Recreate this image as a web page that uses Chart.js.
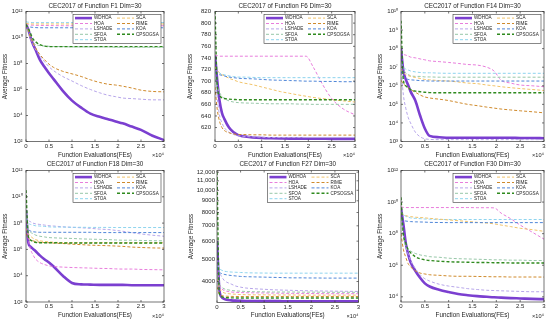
<!DOCTYPE html>
<html>
<head>
<meta charset="utf-8">
<script src="https://cdn.jsdelivr.net/npm/chart.js@4.4.1/dist/chart.umd.min.js"></script>
<style>
  body { margin: 0; background: #fff; width: 550px; height: 324px; position: relative; overflow: hidden; }
  canvas { position: absolute; }
</style>
</head>
<body>
<canvas id="f1"></canvas>
<canvas id="f6"></canvas>
<canvas id="f14"></canvas>
<canvas id="f18"></canvas>
<canvas id="f27"></canvas>
<canvas id="f30"></canvas>
<script>
// sample positions (function evaluations) shared by every curve
const FES = [0, 500, 1000, 1500, 2000, 3000, 4000, 5000, 6000, 8000, 10000, 12000, 14000, 16000, 18000, 19500, 21000, 23000, 25000, 27500, 30000];
const ALGOS = ['WDHOA', 'HOA', 'LSHADE', 'SFOA', 'STOA', 'SCA', 'RIME', 'KOA', 'CPSOGSA'];
const X_TICKS = [0, 5000, 10000, 15000, 20000, 25000, 30000];
const X_LABELS = ['0', '0.5', '1', '1.5', '2', '2.5', '3'];

// F1
const F1_WDHOA = [1e11, 4e10, 1e10, 3.2e9, 1.3e9, 2e8, 5.6e7, 1.8e7, 6.3e6, 7.9e5, 1.4e5, 4e4, 1.4e4, 7.9e3, 5e3, 3.5e3, 2.5e3, 1.4e3, 7.9e2, 2.8e2, 1.3e2];
const F1_HOA = [1.1e11, 9.5e10, 9e10, 8.8e10, 8.6e10, 8.5e10, 8.4e10, 8.3e10, 8.2e10, 8.1e10, 8e10, 8e10, 8e10, 8e10, 8e10, 8e10, 8e10, 8e10, 8e10, 8e10, 8e10];
const F1_LSHADE = [1e11, 2.5e10, 7.9e9, 3.2e9, 1.4e9, 4e8, 1.4e8, 5.6e7, 2.8e7, 1e7, 4.5e6, 2e6, 1e6, 5.6e5, 3.5e5, 2.8e5, 2.2e5, 2e5, 1.8e5, 1.6e5, 1.6e5];
const F1_SFOA = [1.1e11, 4e10, 1e10, 4.5e9, 3e9, 2.4e9, 2.2e9, 2.1e9, 2e9, 2e9, 1.9e9, 1.9e9, 1.9e9, 1.9e9, 1.9e9, 1.8e9, 1.8e9, 1.8e9, 1.8e9, 1.8e9, 1.8e9];
const F1_STOA = [1.6e11, 1.5e11, 1.45e11, 1.4e11, 1.4e11, 1.4e11, 1.4e11, 1.4e11, 1.4e11, 1.4e11, 1.4e11, 1.4e11, 1.4e11, 1.4e11, 1.4e11, 1.4e11, 1.4e11, 1.4e11, 1.4e11, 1.4e11, 1.4e11];
const F1_SCA = [1.2e11, 1.15e11, 1.1e11, 1.1e11, 1.1e11, 1.1e11, 1.1e11, 1.1e11, 1.1e11, 1.1e11, 1.1e11, 1.1e11, 1.1e11, 1.1e11, 1.1e11, 1.1e11, 1.1e11, 1.1e11, 1.1e11, 1.1e11, 1.1e11];
const F1_RIME = [1e11, 3.2e10, 1e10, 4e9, 1.8e9, 5e8, 2e8, 8.9e7, 5e7, 2.5e7, 1.6e7, 1e7, 5.6e6, 3.5e6, 2.5e6, 2.2e6, 1.8e6, 1.3e6, 8.9e5, 7.1e5, 6.6e5];
const F1_KOA = [1e11, 7e10, 6.3e10, 6e10, 5.8e10, 5.6e10, 5.6e10, 5.6e10, 5.6e10, 5.6e10, 5.6e10, 5.6e10, 5.6e10, 5.6e10, 5.6e10, 5.6e10, 5.6e10, 5.6e10, 5.6e10, 5.6e10, 5.6e10];
const F1_CPSOGSA = [1e11, 5e10, 2e10, 8e9, 5e9, 2.8e9, 2.2e9, 2e9, 2e9, 2e9, 2e9, 2e9, 2e9, 2e9, 2e9, 2e9, 2e9, 2e9, 2e9, 2e9, 2e9];
const F1_YTICKS = [1e2, 1e4, 1e6, 1e8, 1e10, 1e12];
const F1_YLABELS = ['10²', '10⁴', '10⁶', '10⁸', '10¹⁰', '10¹²'];

// F6
const F6_WDHOA = [745, 700, 665, 645, 635, 620, 612, 607, 605, 603, 602, 601.5, 601.2, 601, 601, 600.8, 600.8, 600.7, 600.6, 600.5, 600.5];
const F6_HOA = [745, 744, 743, 743, 743, 743, 743, 743, 743, 743, 743, 743, 743, 743, 743, 743, 725, 695, 670, 652, 642];
const F6_LSHADE = [720, 670, 640, 628, 620, 612, 608, 606, 605, 604, 603.5, 603, 603, 603, 603, 603, 603, 603, 603, 603, 603];
const F6_SFOA = [705, 690, 680, 674, 670, 666, 664, 663, 662.5, 662, 661.5, 661, 661, 661, 660.5, 660.5, 660, 660, 660, 660, 660];
const F6_STOA = [722, 718, 714, 712, 711, 709, 708, 707, 707, 706.5, 706, 706, 706, 706, 706, 706, 706, 706, 706, 706, 706];
const F6_SCA = [725, 718, 714, 711, 709, 705, 702, 699, 697, 694, 690, 686, 682, 679, 676, 674, 672, 670, 668, 666, 664];
const F6_RIME = [690, 650, 630, 620, 615, 611, 609, 608, 608, 607.5, 607.5, 607, 607, 607, 607, 607, 607, 607, 607, 607, 607];
const F6_KOA = [716, 713, 711, 710, 709, 707, 706, 705, 704.5, 704, 703, 702, 701.5, 701, 700.5, 700, 700, 699.5, 699.5, 699, 699];
const F6_CPSOGSA = [820, 690, 675, 671, 670, 669, 668.5, 668, 668, 668, 668, 668, 668, 668, 668, 668, 668, 668, 668, 668, 668];
const F6_YTICKS = [620, 640, 660, 680, 700, 720, 740, 760, 780, 800, 820];
const F6_YLABELS = ['620', '640', '660', '680', '700', '720', '740', '760', '780', '800', '820'];

// F14
const F14_WDHOA = [1e8, 6.3e6, 2.2e6, 1.1e6, 5e5, 1.6e5, 2.5e4, 5e3, 2e3, 1.7e3, 1.6e3, 1.6e3, 1.6e3, 1.6e3, 1.6e3, 1.6e3, 1.6e3, 1.6e3, 1.55e3, 1.55e3, 1.5e3];
const F14_HOA = [7.9e7, 5e7, 4.5e7, 4e7, 3.5e7, 3.2e7, 2.8e7, 2.5e7, 2.2e7, 2e7, 1.8e7, 1.6e7, 1.4e7, 1.3e7, 1e7, 6.3e6, 2e6, 1.4e6, 1.1e6, 1e6, 8.9e5];
const F14_LSHADE = [1e7, 3.2e5, 6.3e4, 2e4, 1e4, 3.2e3, 1.8e3, 1.4e3, 1.3e3, 1.26e3, 1.26e3, 1.26e3, 1.26e3, 1.26e3, 1.26e3, 1.26e3, 1.26e3, 1.26e3, 1.26e3, 1.26e3, 1.26e3];
const F14_SFOA = [2e7, 7.9e6, 5e6, 4e6, 3.5e6, 3.2e6, 3.2e6, 3e6, 3e6, 2.9e6, 2.9e6, 2.9e6, 2.9e6, 2.9e6, 2.9e6, 2.9e6, 2.9e6, 2.9e6, 2.9e6, 2.9e6, 2.9e6];
const F14_STOA = [1.6e7, 1e7, 7.9e6, 7.1e6, 6.3e6, 5.6e6, 5.2e6, 5e6, 5e6, 4.8e6, 4.7e6, 4.7e6, 4.7e6, 4.7e6, 4.7e6, 4.7e6, 4.7e6, 4.7e6, 4.7e6, 4.7e6, 4.7e6];
const F14_SCA = [7.9e6, 5e6, 4e6, 3.5e6, 3.2e6, 2.8e6, 2.5e6, 2.2e6, 2.1e6, 1.9e6, 1.8e6, 1.6e6, 1.4e6, 1.3e6, 1.1e6, 1e6, 8.9e5, 7.9e5, 7.1e5, 6.3e5, 5.6e5];
const F14_RIME = [2e6, 1.26e6, 1e6, 7.9e5, 6.3e5, 4.5e5, 3.2e5, 2.5e5, 2.2e5, 1.9e5, 1.6e5, 1.26e5, 1e5, 8.5e4, 7.1e4, 6.3e4, 5.6e4, 5e4, 4.5e4, 4e4, 3.5e4];
const F14_KOA = [6.3e6, 3.2e6, 2.5e6, 2.2e6, 2.1e6, 2e6, 1.9e6, 1.85e6, 1.8e6, 1.8e6, 1.8e6, 1.8e6, 1.8e6, 1.8e6, 1.8e6, 1.8e6, 1.8e6, 1.8e6, 1.8e6, 1.8e6, 1.8e6];
const F14_CPSOGSA = [3.2e9, 2e6, 1e6, 7.9e5, 6.3e5, 5.2e5, 4.8e5, 4.5e5, 4.3e5, 4.2e5, 4.2e5, 4.2e5, 4.2e5, 4.2e5, 4.2e5, 4.2e5, 4.2e5, 4.2e5, 4.2e5, 4.2e5, 4.2e5];
const F14_YTICKS = [1e3, 1e4, 1e5, 1e6, 1e7, 1e8, 1e9, 1e10];
const F14_YLABELS = ['10³', '10⁴', '10⁵', '10⁶', '10⁷', '10⁸', '10⁹', '10¹⁰'];

// F18
const F18_WDHOA = [1e9, 3.2e6, 1.6e6, 1.1e6, 7.9e5, 3.5e5, 1.8e5, 1e5, 5e4, 1e4, 2.8e3, 2.2e3, 2.1e3, 2e3, 2e3, 2e3, 2e3, 1.9e3, 1.9e3, 1.9e3, 1.9e3];
const F18_HOA = [3.2e8, 6.3e6, 1e6, 4e5, 2e5, 1e5, 7.1e4, 5.6e4, 5e4, 4.5e4, 4.2e4, 4e4, 3.8e4, 3.6e4, 3.5e4, 3.3e4, 3.2e4, 3.2e4, 3e4, 2.9e4, 2.8e4];
const F18_LSHADE = [3.2e8, 1.6e8, 1.26e8, 1e8, 8.9e7, 7.9e7, 7.1e7, 6.3e7, 6e7, 5.2e7, 4.8e7, 4.4e7, 4e7, 3.5e7, 3.2e7, 2.8e7, 2.4e7, 1.9e7, 1.5e7, 1.2e7, 1e7];
const F18_SFOA = [6.3e8, 4e7, 2e7, 1.6e7, 1.26e7, 1e7, 8.9e6, 7.9e6, 7.6e6, 7.1e6, 6.8e6, 6.3e6, 6e6, 5.8e6, 5.5e6, 5.2e6, 5e6, 5e6, 4.8e6, 4.6e6, 4.5e6];
const F18_STOA = [2e8, 1e8, 7.9e7, 7.1e7, 6.3e7, 6e7, 5.6e7, 5.2e7, 5e7, 5e7, 4.8e7, 4.8e7, 4.7e7, 4.7e7, 4.7e7, 4.6e7, 4.6e7, 4.6e7, 4.6e7, 4.6e7, 4.6e7];
const F18_SCA = [4e7, 1.6e7, 1e7, 7.1e6, 5.6e6, 4.5e6, 4e6, 3.7e6, 3.5e6, 3.3e6, 3.2e6, 3.2e6, 3.2e6, 3.2e6, 3.2e6, 3.2e6, 3.2e6, 3.2e6, 3.2e6, 3.2e6, 3.2e6];
const F18_RIME = [1.6e7, 7.9e6, 5.6e6, 4.5e6, 4e6, 3.5e6, 3.3e6, 3.2e6, 3e6, 2.8e6, 2.5e6, 2.3e6, 2.1e6, 2e6, 1.9e6, 1.8e6, 1.7e6, 1.5e6, 1.4e6, 1.3e6, 1.26e6];
const F18_KOA = [6.3e7, 3.2e7, 2.5e7, 2.2e7, 2.1e7, 2e7, 2e7, 2e7, 2e7, 2e7, 2e7, 2e7, 2e7, 1.9e7, 1.9e7, 1.9e7, 1.9e7, 1.9e7, 1.9e7, 1.9e7, 1.9e7];
const F18_CPSOGSA = [3.2e10, 1e7, 5e6, 4e6, 3.5e6, 3.2e6, 3.2e6, 3.2e6, 3.2e6, 3.1e6, 3.1e6, 3.1e6, 3.1e6, 3.1e6, 3.1e6, 3.1e6, 3.1e6, 3.1e6, 3.1e6, 3.1e6, 3.1e6];
const F18_YTICKS = [1e2, 1e4, 1e6, 1e8, 1e10, 1e12];
const F18_YLABELS = ['10²', '10⁴', '10⁶', '10⁸', '10¹⁰', '10¹²'];

// F27
const F27_WDHOA = [6000, 3700, 3420, 3360, 3330, 3310, 3300, 3295, 3290, 3288, 3285, 3284, 3283, 3282, 3281, 3280, 3280, 3280, 3279, 3278, 3278];
const F27_HOA = [4500, 3900, 3720, 3660, 3630, 3600, 3590, 3580, 3575, 3570, 3565, 3560, 3555, 3550, 3550, 3545, 3545, 3540, 3540, 3540, 3540];
const F27_LSHADE = [5000, 4400, 4200, 4050, 3980, 3900, 3820, 3780, 3750, 3720, 3700, 3680, 3670, 3660, 3650, 3645, 3640, 3635, 3630, 3625, 3620];
const F27_SFOA = [4300, 3900, 3780, 3720, 3690, 3660, 3640, 3630, 3620, 3610, 3605, 3600, 3600, 3600, 3595, 3595, 3595, 3590, 3590, 3590, 3590];
const F27_STOA = [4700, 4550, 4480, 4440, 4420, 4400, 4390, 4380, 4370, 4360, 4355, 4350, 4350, 4350, 4350, 4350, 4350, 4350, 4350, 4350, 4350];
const F27_SCA = [4100, 3750, 3620, 3570, 3550, 3530, 3520, 3510, 3505, 3500, 3500, 3495, 3495, 3495, 3490, 3490, 3490, 3490, 3490, 3490, 3490];
const F27_RIME = [3800, 3520, 3470, 3455, 3450, 3445, 3442, 3440, 3440, 3440, 3440, 3440, 3440, 3440, 3440, 3440, 3440, 3440, 3440, 3440, 3440];
const F27_KOA = [4600, 4400, 4330, 4300, 4280, 4250, 4230, 4210, 4200, 4190, 4180, 4170, 4160, 4150, 4150, 4145, 4145, 4140, 4140, 4140, 4140];
const F27_CPSOGSA = [12000, 3550, 3430, 3410, 3400, 3395, 3392, 3390, 3390, 3390, 3390, 3390, 3390, 3390, 3390, 3390, 3390, 3390, 3390, 3390, 3390];
const F27_YTICKS = [4000, 5000, 6000, 7000, 8000, 9000, 10000, 11000, 12000];
const F27_YLABELS = ['4000', '5000', '6000', '7000', '8000', '9000', '10,000', '11,000', '12,000'];

// F30
const F30_WDHOA = [4e9, 4e8, 2.5e7, 5e6, 1.6e6, 4.5e5, 1.6e5, 7.1e4, 4.5e4, 2.8e4, 2e4, 1.5e4, 1.26e4, 1.1e4, 1e4, 9.3e3, 8.9e3, 8.3e3, 7.9e3, 7.4e3, 7.1e3];
const F30_HOA = [5e9, 4.6e9, 4.5e9, 4.5e9, 4.5e9, 4.5e9, 4.5e9, 4.5e9, 4.5e9, 4.5e9, 4.5e9, 4.5e9, 4.5e9, 4.4e9, 4.4e9, 4.3e9, 2e9, 8.9e8, 3.5e8, 1.26e8, 4.5e7];
const F30_LSHADE = [1e9, 1e8, 1.6e7, 5e6, 2e6, 6.3e5, 2.5e5, 1.4e5, 1e5, 6.3e4, 4.8e4, 4e4, 3.3e4, 2.9e4, 2.6e4, 2.5e4, 2.4e4, 2.3e4, 2.2e4, 2.1e4, 2.1e4];
const F30_SFOA = [1e9, 6.3e7, 1.6e7, 1e7, 7.9e6, 5.6e6, 4.5e6, 4e6, 3.5e6, 3.2e6, 2.8e6, 2.6e6, 2.5e6, 2.4e6, 2.3e6, 2.2e6, 2.2e6, 2.1e6, 2.1e6, 2e6, 2e6];
const F30_STOA = [2.5e9, 1.6e9, 1.26e9, 1.1e9, 1e9, 9.3e8, 8.9e8, 8.5e8, 8.3e8, 7.9e8, 7.9e8, 7.9e8, 7.9e8, 7.9e8, 7.9e8, 7.9e8, 7.9e8, 7.9e8, 7.9e8, 7.9e8, 7.9e8];
const F30_SCA = [2e9, 1.6e9, 1.4e9, 1.26e9, 1.2e9, 1.1e9, 1.05e9, 1e9, 9.3e8, 8.3e8, 7.4e8, 6.6e8, 5.9e8, 5.2e8, 4.7e8, 4.2e8, 3.5e8, 2.8e8, 2.2e8, 1.8e8, 1.4e8];
const F30_RIME = [1e8, 1e7, 3.2e6, 1.26e6, 7.9e5, 4.5e5, 3.2e5, 2.8e5, 2.5e5, 2.3e5, 2.1e5, 2e5, 2e5, 1.95e5, 1.9e5, 1.86e5, 1.86e5, 1.8e5, 1.8e5, 1.8e5, 1.78e5];
const F30_KOA = [1e9, 7.1e8, 6.3e8, 6e8, 5.8e8, 5.6e8, 5.5e8, 5.4e8, 5.2e8, 5.1e8, 5e8, 5e8, 5e8, 5e8, 5e8, 5e8, 5e8, 5e8, 5e8, 5e8, 5e8];
const F30_CPSOGSA = [2e10, 1e8, 2.5e7, 1e7, 6.3e6, 3.5e6, 2.6e6, 2.2e6, 2e6, 1.8e6, 1.66e6, 1.6e6, 1.55e6, 1.5e6, 1.48e6, 1.45e6, 1.45e6, 1.4e6, 1.4e6, 1.38e6, 1.38e6];
const F30_YTICKS = [1e4, 1e6, 1e8, 1e10, 1e12];
const F30_YLABELS = ['10⁴', '10⁶', '10⁸', '10¹⁰', '10¹²'];

// line styles per algorithm
const COLORS = ['#7b3fd0', '#e87ddc', '#b7a6ea', '#97c7a8', '#8ed4ee', '#f1c36a', '#cf8a2c', '#4f86d8', '#2f8a1e'];
const WIDTHS = [2.6, 1, 1, 1, 1, 1, 1, 1, 1.4];
const DASH = [3, 2];

Chart.defaults.font.family = '"Liberation Sans", Arial, sans-serif';
Chart.defaults.color = '#262626';

// MATLAB-like box with inward ticks
const framePlugin = {
  id: 'frame',
  afterDatasetsDraw(chart) {
    const { ctx, chartArea: a, scales } = chart;
    ctx.save();
    ctx.strokeStyle = '#3a3a3a';
    ctx.lineWidth = 0.7;
    ctx.beginPath();
    scales.x.ticks.forEach(t => {
      const px = scales.x.getPixelForValue(t.value);
      ctx.moveTo(px, a.bottom); ctx.lineTo(px, a.bottom - 2);
      ctx.moveTo(px, a.top); ctx.lineTo(px, a.top + 2);
    });
    scales.y.ticks.forEach(t => {
      const py = scales.y.getPixelForValue(t.value);
      ctx.moveTo(a.left, py); ctx.lineTo(a.left + 2, py);
      ctx.moveTo(a.right, py); ctx.lineTo(a.right - 2, py);
    });
    ctx.stroke();
    ctx.strokeRect(a.left, a.top, a.right - a.left, a.bottom - a.top);
    ctx.restore();
  }
};

// two column legend box inside the axes, plus the x10^4 exponent label
const legendPlugin = {
  id: 'boxLegend',
  afterDraw(chart) {
    const { ctx, chartArea: a } = chart;
    const w = 88, h = 29;
    const x0 = a.right - 3 - w, y0 = a.top + 3;
    ctx.save();
    ctx.fillStyle = '#fff';
    ctx.fillRect(x0, y0, w, h);
    ctx.strokeStyle = '#3a3a3a';
    ctx.lineWidth = 0.6;
    ctx.strokeRect(x0, y0, w, h);
    ctx.font = '4.6px "Liberation Sans", Arial, sans-serif';
    ctx.textBaseline = 'middle';
    chart.data.datasets.forEach((ds, i) => {
      const col = i < 5 ? 0 : 1;
      const row = i < 5 ? i : i - 5;
      const lx = x0 + (col ? 44 : 2);
      const ly = y0 + 3.6 + row * 5.4;
      ctx.strokeStyle = ds.borderColor;
      ctx.lineWidth = ds.borderWidth;
      ctx.setLineDash(ds.borderDash);
      ctx.beginPath();
      ctx.moveTo(lx, ly);
      ctx.lineTo(lx + 17, ly);
      ctx.stroke();
      ctx.setLineDash([]);
      ctx.fillStyle = '#262626';
      ctx.fillText(ds.label, lx + 19, ly);
    });
    ctx.textAlign = 'right';
    ctx.textBaseline = 'alphabetic';
    ctx.font = '5.6px "Liberation Sans", Arial, sans-serif';
    ctx.fillText('×10⁴', a.right, a.bottom + 15.5);
    ctx.restore();
  }
};

const PANELS = [
  { id: 'f1', title: 'CEC2017 of Function F1 Dim=30', left: 0, top: 0, w: 183, h: 162, L: 26, R: 164, T: 11.5, B: 141.5,
    yType: 'logarithmic', yMin: 1e2, yMax: 1e12, yTicks: F1_YTICKS, yLabels: F1_YLABELS, yTitleX: 5, tickPad: 3.5,
    series: [F1_WDHOA, F1_HOA, F1_LSHADE, F1_SFOA, F1_STOA, F1_SCA, F1_RIME, F1_KOA, F1_CPSOGSA] },
  { id: 'f6', title: 'CEC2017 of Function F6 Dim=30', left: 183, top: 0, w: 183, h: 162, L: 215, R: 355, T: 11.5, B: 141.5,
    yType: 'linear', yMin: 596, yMax: 820, yTicks: F6_YTICKS, yLabels: F6_YLABELS, yTitleX: 7, tickPad: 4,
    series: [F6_WDHOA, F6_HOA, F6_LSHADE, F6_SFOA, F6_STOA, F6_SCA, F6_RIME, F6_KOA, F6_CPSOGSA] },
  { id: 'f14', title: 'CEC2017 of Function F14 Dim=30', left: 366, top: 0, w: 184, h: 162, L: 401, R: 544, T: 11.5, B: 141.5,
    yType: 'logarithmic', yMin: 1e3, yMax: 1e10, yTicks: F14_YTICKS, yLabels: F14_YLABELS, yTitleX: 14, tickPad: 3,
    series: [F14_WDHOA, F14_HOA, F14_LSHADE, F14_SFOA, F14_STOA, F14_SCA, F14_RIME, F14_KOA, F14_CPSOGSA] },
  { id: 'f18', title: 'CEC2017 of Function F18 Dim=30', left: 0, top: 160, w: 183, h: 164, L: 26, R: 164, T: 170.5, B: 302,
    yType: 'logarithmic', yMin: 1e2, yMax: 1e12, yTicks: F18_YTICKS, yLabels: F18_YLABELS, yTitleX: 5, tickPad: 3.5,
    series: [F18_WDHOA, F18_HOA, F18_LSHADE, F18_SFOA, F18_STOA, F18_SCA, F18_RIME, F18_KOA, F18_CPSOGSA] },
  { id: 'f27', title: 'CEC2017 of Function F27 Dim=30', left: 183, top: 160, w: 183, h: 164, L: 217, R: 358.5, T: 170.5, B: 302.5,
    yType: 'logarithmic', yMin: 3240, yMax: 12200, yTicks: F27_YTICKS, yLabels: F27_YLABELS, yTitleX: 8.3, tickPad: 2,
    series: [F27_WDHOA, F27_HOA, F27_LSHADE, F27_SFOA, F27_STOA, F27_SCA, F27_RIME, F27_KOA, F27_CPSOGSA] },
  { id: 'f30', title: 'CEC2017 of Function F30 Dim=30', left: 366, top: 160, w: 184, h: 164, L: 401, R: 544, T: 170.5, B: 302,
    yType: 'logarithmic', yMin: 4700, yMax: 1e12, yTicks: F30_YTICKS, yLabels: F30_YLABELS, yTitleX: 14, tickPad: 3,
    series: [F30_WDHOA, F30_HOA, F30_LSHADE, F30_SFOA, F30_STOA, F30_SCA, F30_RIME, F30_KOA, F30_CPSOGSA] }
];

function makeChart(p) {
  const canvas = document.getElementById(p.id);
  canvas.width = p.w;
  canvas.height = p.h;
  canvas.style.left = p.left + 'px';
  canvas.style.top = p.top + 'px';

  const plotTop = p.T - p.top;
  const titleTop = p.top === 0 ? 2 : 0.3;
  const titleLine = 6.3 * 1.2;
  const xAxisH = p.top + p.h - p.B;

  const datasets = p.series.map((vals, i) => ({
    label: ALGOS[i],
    data: vals,
    borderColor: COLORS[i],
    borderWidth: WIDTHS[i],
    borderDash: i === 0 ? [] : DASH,
    pointRadius: 0,
    fill: false,
    cubicInterpolationMode: 'monotone',
    order: ALGOS.length - i
  }));

  new Chart(canvas, {
    type: 'line',
    data: { labels: FES, datasets: datasets },
    options: {
      responsive: false,
      animation: false,
      events: [],
      layout: { padding: { left: 0, right: p.left + p.w - p.R, top: 0, bottom: 0 } },
      plugins: {
        legend: { display: false },
        tooltip: { enabled: false },
        title: {
          display: true, text: p.title, color: '#262626', fullSize: false,
          font: { size: 6.3, weight: 'normal' },
          padding: { top: titleTop, bottom: plotTop - titleLine - titleTop }
        }
      },
      scales: {
        x: {
          type: 'linear', min: 0, max: 30000,
          grid: { display: false, drawTicks: false },
          border: { display: false },
          afterBuildTicks: s => { s.ticks = X_TICKS.map(v => ({ value: v })); },
          afterFit: s => { s.height = xAxisH; },
          ticks: { padding: 1.2, font: { size: 6 }, maxRotation: 0, autoSkip: false, callback: (v, i) => X_LABELS[i] },
          title: { display: true, text: 'Function Evaluations(FEs)', font: { size: 6.3 },
                   padding: { top: 0, bottom: p.top === 0 ? 3.2 : 5.2 } }
        },
        y: {
          type: p.yType, min: p.yMin, max: p.yMax,
          grid: { display: false, drawTicks: false },
          border: { display: false },
          afterBuildTicks: s => { s.ticks = p.yTicks.map(v => ({ value: v })); },
          afterFit: s => { s.width = p.L - p.left; },
          ticks: { padding: p.tickPad, font: { size: 6 }, autoSkip: false, callback: (v, i) => p.yLabels[i] },
          title: { display: true, text: 'Average Fitness', font: { size: 6.3 },
                   padding: { top: p.yTitleX - titleLine / 2, bottom: 0 } }
        }
      }
    },
    plugins: [framePlugin, legendPlugin]
  });
}

PANELS.forEach(makeChart);
</script>
</body>
</html>
